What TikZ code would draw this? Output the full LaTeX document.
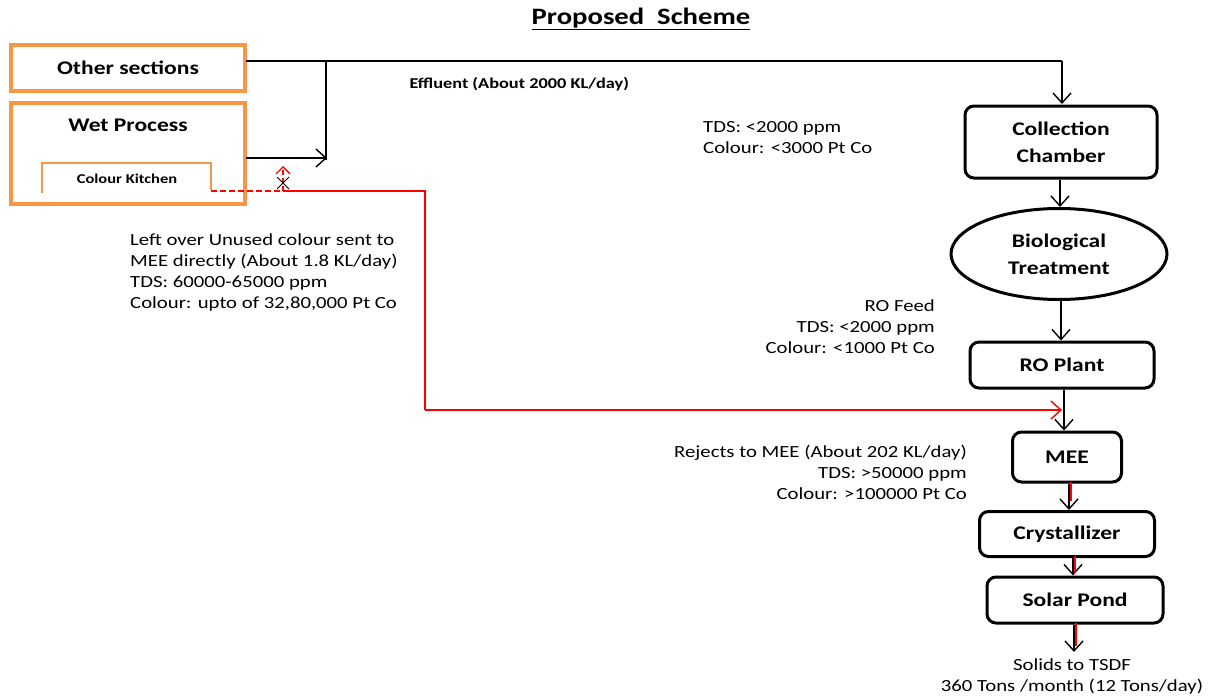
\documentclass[tikz,border=0pt]{standalone}
\usepackage{fontspec}
\setmainfont{Carlito}[FakeStretch=1.22]
\usetikzlibrary{arrows.meta,shapes.geometric}
\definecolor{org}{RGB}{247,150,70}
\begin{document}
\begin{tikzpicture}[x=1pt,y=-1pt,
  obox/.style={draw=org,line width=4pt,inner sep=0pt},
  pbox/.style={draw,line width=3pt,rounded corners=9pt,inner sep=0pt,font=\bfseries\fontsize{19.3}{27}\selectfont,align=center},
  lbl/.style={font=\fontsize{17}{21}\selectfont,inner sep=0pt},
  arr/.style={-{Straight Barb[length=10pt,width=18pt,line width=1.4pt]},line width=1.4pt},
  rarr/.style={red,-{Straight Barb[length=10pt,width=18pt,line width=1.4pt]},line width=1.4pt}]
\useasboundingbox (0,0) rectangle (1213,696);
% title
\node[font=\bfseries\fontsize{23.5}{26}\selectfont] (title) at (641,19) {\underline{Proposed\ \ Scheme}};
% left boxes
\node[obox,minimum width=234pt,minimum height=46pt,font=\bfseries\fontsize{19.3}{23}\selectfont] (other) at (128,68) {Other sections};
\node[obox,minimum width=234pt,minimum height=101pt] (wet) at (128,153) {};
\node[font=\bfseries\fontsize{19.3}{23}\selectfont] (wett) at (128,125) {Wet Process};
\draw[org,line width=2.2pt] (42,193) -- (42,163) -- (211,163) -- (211,190);
\node[font=\bfseries\fontsize{13.5}{15}\selectfont] (ck) at (127,179) {Colour Kitchen};
% right flow
\node[pbox,minimum width=192pt,minimum height=72pt] (cc) at (1061,142) {Collection\\Chamber};
\node[ellipse,draw,line width=3pt,minimum width=216pt,minimum height=91pt,inner sep=0pt,font=\bfseries\fontsize{19.3}{27}\selectfont,align=center] (bio) at (1059,254) {Biological\\Treatment};
\node[pbox,minimum width=184pt,minimum height=46pt] (ro) at (1062,365) {RO Plant};
\node[pbox,minimum width=109pt,minimum height=50pt] (mee) at (1067,457) {MEE};
\node[pbox,minimum width=175pt,minimum height=45pt] (cry) at (1067,534) {Crystallizer};
\node[pbox,minimum width=176pt,minimum height=46pt] (sp) at (1075,600) {Solar Pond};
% coordinates
\coordinate (o1) at (246,61);
\coordinate (j1) at (326,61);
\coordinate (j2) at (1062,61);
\coordinate (w1) at (246,158);
\coordinate (w2) at (327,158);
\coordinate (out) at (1074,652);
% black connectors
\draw[line width=1.4pt] (o1) -- (j2);
\draw[arr] (j2) -- (1062,104);
\draw[line width=1.4pt] (j1) -- (326,160);
\draw[arr] (w1) -- (w2);
\draw[arr] (cc.south -| 1060,0) -- (bio.north -| 1060,0);
\draw[arr] (bio.south -| 1061,0) -- (ro.north -| 1061,0);
\draw[arr] (ro.south -| 1064,0) -- (mee.north -| 1064,0);
\draw[arr] (mee.south -| 1069,0) -- (cry.north -| 1069,0);
\draw[arr] (cry.south -| 1073,0) -- (sp.north -| 1073,0);
\draw[arr] (sp.south -| 1074,0) -- (out);
\draw[red,line width=1.4pt] (1071,482) -- (1071,501);
\draw[red,line width=1.4pt] (1075,556) -- (1075,573);
\draw[red,line width=1.4pt] (1076,623) -- (1076,646);
% red connector
\coordinate (r0) at (211,191);
\coordinate (r1) at (283,191);
\coordinate (r2) at (425,191);
\coordinate (r3) at (425,410);
\coordinate (r4) at (1062,410);
\draw[red,line width=1.4pt,dash pattern=on 6pt off 3pt] (r0) -- (r1);
\draw[red,line width=1.4pt] (r1) -- (r2) -- (r3);
\draw[rarr] (r3) -- (r4);
\draw[red,line width=1.4pt,dash pattern=on 5pt off 3pt,-{Straight Barb[length=7pt,width=14pt,line width=1.4pt]}] (r1) -- (283,166);
\draw[line width=1pt] (277,177) -- (289,189) (289,177) -- (277,189);
% labels
\node[font=\bfseries\fontsize{15}{17}\selectfont,anchor=west] (eff) at (406,84) {Effluent (About 2000 KL/day)};
\node[lbl,anchor=north west,align=left] (t1) at (703,121) {TDS: <2000 ppm\\Colour: <3000 Pt Co};
\node[lbl,anchor=north east,align=right] (t2) at (935,299) {RO Feed\\TDS: <2000 ppm\\Colour: <1000 Pt Co};
\node[lbl,anchor=north east,align=right] (t3) at (967,445) {Rejects to MEE (About 202 KL/day)\\TDS: >50000 ppm\\Colour: >100000 Pt Co};
\node[lbl,anchor=north west,align=left] (t4) at (130,233) {Left over Unused colour sent to\\MEE directly (About 1.8 KL/day)\\TDS: 60000-65000 ppm\\Colour: upto of 32,80,000 Pt Co};
\node[lbl,anchor=north,align=center] (t5) at (1072,658) {Solids to TSDF\\360 Tons /month (12 Tons/day)};
\end{tikzpicture}
\end{document}
